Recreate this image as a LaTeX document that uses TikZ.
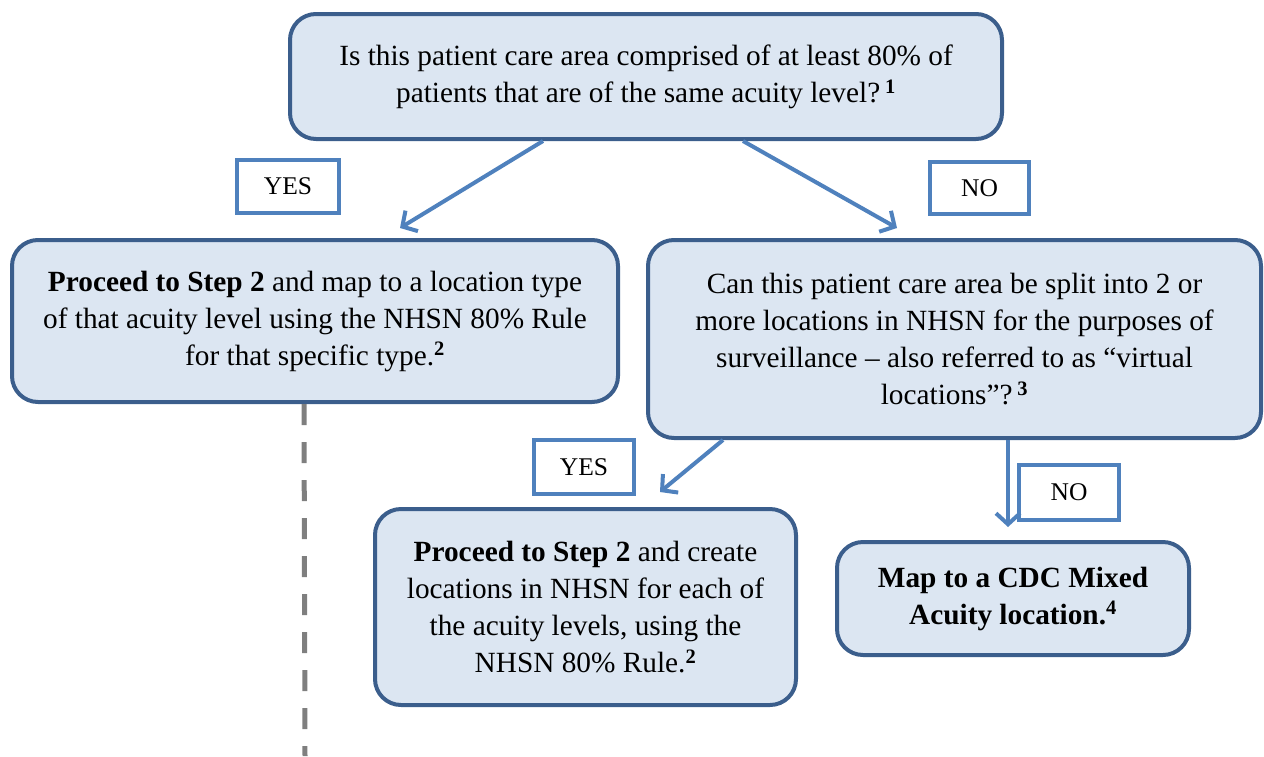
\documentclass[tikz,border=0pt]{standalone}
\usepackage{fontspec}
\setmainfont{Liberation Serif}
\usetikzlibrary{arrows.meta}
\definecolor{boxline}{HTML}{3B5E8C}
\definecolor{boxfill}{HTML}{DCE6F2}
\definecolor{lblline}{HTML}{4F81BD}
\definecolor{dashgray}{HTML}{7F7F7F}
\begin{document}
\begin{tikzpicture}[x=1pt,y=-1pt,
  box/.style={draw=boxline, fill=boxfill, line width=4pt, rounded corners=26pt, align=center, inner sep=0pt, font=\fontsize{29.3}{37}\selectfont},
  lbl/.style={draw=lblline, fill=white, line width=4pt, inner sep=0pt, font=\fontsize{25.5}{30}\selectfont},
  arr/.style={draw=lblline, line width=4pt, -{Straight Barb[length=11pt,width=24pt]}},
  dashln/.style={draw=dashgray, line width=5pt, dash pattern=on 21pt off 17pt}]
\useasboundingbox (0,0) rectangle (1264,756);
\node[box, minimum width=712pt, minimum height=125pt] (q1) at (646,76.5)
  {Is this patient care area comprised of at least 80\% of\\patients that are of the same acuity level?\,\textsuperscript{\textbf{1}}};
\node[box, minimum width=606pt, minimum height=162pt] (s2a) at (315,321)
  {\textbf{Proceed to Step 2} and map to a location type\\of that acuity level using the NHSN 80\% Rule\\for that specific type.\textsuperscript{\textbf{2}}};
\node[box, minimum width=613pt, minimum height=198pt] (q2) at (954.5,339)
  {Can this patient care area be split into 2 or\\more locations in NHSN for the purposes of\\surveillance – also referred to as “virtual\\locations”?\,\textsuperscript{\textbf{3}}};
\node[box, minimum width=421pt, minimum height=196pt] (s2b) at (585.5,607)
  {\textbf{Proceed to Step 2} and create\\locations in NHSN for each of\\the acuity levels, using the\\NHSN 80\% Rule.\textsuperscript{\textbf{2}}};
\node[box, minimum width=352pt, minimum height=113pt] (mix) at (1013,598.5)
  {\textbf{Map to a CDC Mixed}\\\textbf{Acuity location.}\textsuperscript{\textbf{4}}};
\node[lbl, minimum width=102pt, minimum height=53pt] (yes1) at (288,186.5) {YES};
\node[lbl, minimum width=99pt, minimum height=52pt] (no1) at (979.5,188) {NO};
\node[lbl, minimum width=100pt, minimum height=54pt] (yes2) at (584,467) {YES};
\node[lbl, minimum width=100pt, minimum height=55pt] (no2) at (1069,492.5) {NO};
\coordinate (dend) at (305,756);
\draw[dashln] ([xshift=-11pt]s2a.south) -- (dend);
\draw[arr] ([xshift=-103pt]q1.south) -- ([xshift=85pt,yshift=10pt]s2a.north);
\draw[arr] ([xshift=97pt]q1.south) -- ([xshift=-57.5pt,yshift=10pt]q2.north);
\draw[arr] ([xshift=-231.5pt]q2.south) -- ([xshift=74.5pt,yshift=15pt]s2b.north);
\draw[arr] ([xshift=53.5pt]q2.south) -- ([xshift=-5pt,yshift=13pt]mix.north);
\end{tikzpicture}
\end{document}
